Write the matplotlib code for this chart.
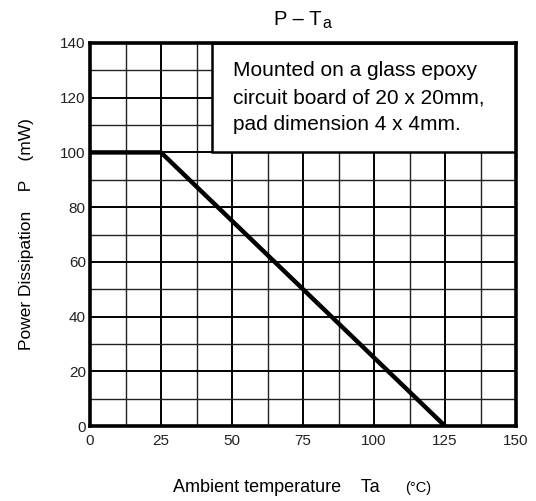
import numpy as np
import matplotlib
matplotlib.use('Agg')
from matplotlib import pyplot as plt
from matplotlib.patches import Rectangle
from matplotlib.ticker import MultipleLocator

plt.rcParams['font.family'] = ['Liberation Sans', 'DejaVu Sans']

# derating curve
temp = [0, 25, 125]
power = [100, 100, 0]

x_lim = (0, 150)
y_lim = (0, 140)
x_major = 25
x_minor = 12.5
y_major = 20
y_minor = 10

note_text = ("Mounted on a glass epoxy\n"
             "circuit board of 20 x 20mm,\n"
             "pad dimension 4 x 4mm.")
note_box = (43, 100)   # lower left corner in data units

fig = plt.figure(figsize=(5.36, 5.01), dpi=100)
ax = fig.add_axes([90 / 536, 75 / 501, 426 / 536, 383 / 501])

ax.set_xlim(*x_lim)
ax.set_ylim(*y_lim)
ax.xaxis.set_major_locator(MultipleLocator(x_major))
ax.xaxis.set_minor_locator(MultipleLocator(x_minor))
ax.yaxis.set_major_locator(MultipleLocator(y_major))
ax.yaxis.set_minor_locator(MultipleLocator(y_minor))

ax.set_axisbelow(True)
ax.grid(which='major', color='black', lw=1.4)
ax.grid(which='minor', color='#222222', lw=1.0)
ax.tick_params(which='both', length=0, labelsize=11, colors='#222222')
ax.tick_params(axis='x', pad=6)
ax.tick_params(axis='y', pad=3)

for s in ax.spines.values():
    s.set_linewidth(2.6)
    s.set_zorder(5)

ax.plot(temp, power, color='black', lw=3.2, solid_capstyle='butt', zorder=4)

# note box hides the grid behind it
ax.add_patch(Rectangle(note_box, x_lim[1] - note_box[0], y_lim[1] - note_box[1],
                       facecolor='white', edgecolor='black', lw=1.8, zorder=3))
ax.text(50.3, 120.0, note_text, fontsize=15, va='center', ha='left',
        linespacing=1.55, zorder=4)

# title with a big subscript
fig.text(274 / 536, 1 - 25 / 501, 'P – T', fontsize=14.5, ha='left', va='baseline')
fig.text(322.5 / 536, 1 - 28.3 / 501, 'a', fontsize=11.5, ha='left', va='baseline')

ax.set_ylabel('Power Dissipation    P    (mW)', fontsize=12.5, labelpad=19)

fig.text(172.6 / 536, 1 - 488 / 501, 'Ambient temperature    Ta', fontsize=13,
         ha='left', va='center')
fig.text(405 / 536, 1 - 488 / 501, '(°C)', fontsize=10.5, ha='left', va='center')

fig.savefig('out.png', dpi=100)
